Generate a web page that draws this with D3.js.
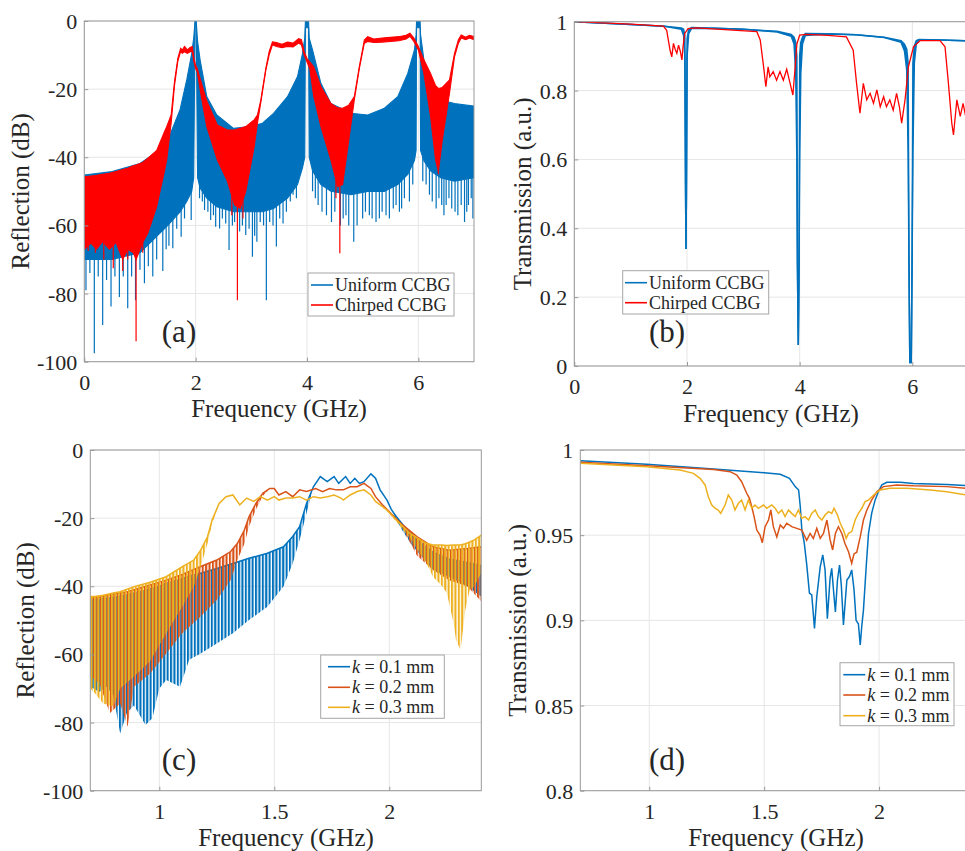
<!DOCTYPE html>
<html>
<head>
<meta charset="utf-8">
<script src="https://cdn.jsdelivr.net/npm/d3@7"></script>
<style>
  body { margin: 0; background: #fff; }
  text { font-family: "Liberation Serif", "Times New Roman", serif; fill: #262626; }
</style>
</head>
<body>
<div id="chart"></div>
<script>
// ---------- (a) reflection, 0-7 GHz : [GHz, upper dB, lower dB] ----------
const aUniform = [
  [0,-45.2,-70],[0.5,-44.2,-70],[1.0,-41.8,-68],[1.25,-39,-64],[1.5,-35,-60],[1.72,-26,-56],
  [1.84,-17.3,-53],[1.93,-9.5,-50],[1.965,-5,-46],[1.99,0,0],[2.01,0,0],[2.035,-6,-46],
  [2.08,-11.4,-49],[2.2,-22.2,-52],[2.38,-27.6,-54.5],[2.68,-31.5,-56],[2.98,-31,-56],
  [3.2,-30,-56],[3.4,-27.1,-55],[3.65,-22.2,-52],[3.83,-16.3,-48],[3.92,-9.5,-43],[3.96,-5,-40],
  [3.972,0,-2],[4.028,0,-2],[4.04,-5,-40],[4.1,-8.5,-44],[4.25,-18.3,-48],[4.43,-24.2,-50],
  [4.79,-27.1,-51],[5.09,-27.6,-50],[5.39,-25.6,-50],[5.63,-22.2,-48],[5.81,-15.4,-45],
  [5.93,-8.5,-41],[5.96,-4,-38],[5.968,0,-2],[6.032,0,-2],[6.04,-4,-38],[6.1,-11.4,-41],
  [6.22,-18.3,-44],[6.4,-23.2,-46],[6.65,-24.2,-47],[7.0,-25,-46]
];
// notches hanging below the band : [GHz, dB]
const aUniformNotches = [
  [0.03,-79],[0.1,-74],[0.18,-97.5],[0.25,-75],[0.33,-89.2],[0.4,-76],[0.48,-83.8],[0.55,-75],
  [0.63,-81],[0.7,-75],[0.78,-84.3],[0.85,-75],[0.92,-82],[1.0,-73],[1.08,-77],[1.15,-72],
  [1.23,-75],[1.3,-70],[1.41,-73.4],[1.47,-67],[1.52,-66],[1.59,-66.7],[1.66,-61],[1.74,-63.3],
  [1.8,-58],[1.92,-58.4],[2.07,-52],[2.12,-53],[2.16,-55.5],[2.22,-56],[2.27,-58.4],[2.32,-57],
  [2.36,-60.4],[2.43,-60.9],[2.48,-58],[2.54,-59.4],[2.6,-67.2],[2.66,-60],[2.7,-59],[2.79,-61.8],
  [2.84,-60],[2.9,-62.8],[2.96,-61],[3.02,-69.2],[3.06,-63],[3.1,-64.8],[3.16,-59],[3.22,-60],
  [3.27,-82],[3.33,-59],[3.39,-60],[3.45,-66.2],[3.51,-58],[3.57,-59.4],[3.63,-56],[3.7,-53],
  [3.75,-51],[3.81,-52],[4.1,-50],[4.15,-52],[4.2,-54],[4.27,-56],[4.35,-57],[4.44,-59],[4.5,-56],
  [4.6,-60],[4.65,-58],[4.7,-57],[4.75,-60],[4.84,-64.8],[4.9,-60],[5.0,-58],[5.05,-56],[5.12,-57],
  [5.17,-58],[5.24,-59],[5.3,-58],[5.35,-56],[5.42,-57],[5.48,-58],[5.55,-55],[5.6,-54],[5.66,-56],
  [5.7,-55],[5.75,-52],[5.84,-53],[5.9,-48],[6.08,-47],[6.14,-48],[6.2,-51],[6.25,-53],[6.32,-55],
  [6.37,-52],[6.42,-54],[6.46,-57],[6.5,-54],[6.55,-52],[6.6,-55],[6.66,-56],[6.71,-57],[6.77,-54],
  [6.83,-59],[6.87,-56],[6.9,-54],[6.95,-52],[6.98,-58]
];
const aChirped = [
  [0,-45.7,-67],[0.12,-45.5,-65.2],[0.22,-45.3,-67],[0.33,-45,-64.7],[0.45,-44.7,-67],[0.57,-44.2,-65],
  [0.69,-43.6,-70],[0.78,-43.2,-67],[0.88,-42.5,-68],[0.93,-42.3,-70],[1.05,-41.5,-65],[1.14,-40.3,-62.3],
  [1.3,-38,-54.5],[1.44,-32.5,-44],[1.48,-31,-40.8],[1.56,-27.6,-30],[1.62,-17.8,-19],
  [1.68,-11,-11.8],[1.73,-8,-9],[1.76,-8.5,-9.5],[1.8,-7.5,-9],[1.85,-8.5,-9.5],[1.9,-7.8,-9],
  [1.94,-7.5,-9],[1.97,-11,-12],[2.0,-13,-14],[2.03,-14,-15],[2.1,-18,-22],[2.2,-23.5,-31],
  [2.39,-30.5,-40.8],[2.57,-32,-47],[2.7,-32,-54],[2.8,-31.5,-55],[2.9,-31,-50],[3.05,-29,-37],
  [3.11,-27.6,-30],[3.17,-23.2,-24],[3.26,-14,-14.5],[3.32,-9,-10],[3.38,-6.1,-7],[3.45,-6.3,-7.5],
  [3.55,-6.8,-7.8],[3.65,-6.2,-7.5],[3.75,-6.5,-7.6],[3.85,-5.2,-6.5],[3.9,-5.5,-7],[3.95,-9,-10],
  [4.0,-11,-12],[4.05,-12,-14],[4.12,-13.4,-22],[4.25,-19.3,-31],[4.43,-24.2,-40.8],[4.55,-25.5,-48.6],
  [4.64,-25.6,-48],[4.75,-24.7,-35],[4.85,-22.2,-23.2],[4.94,-13.4,-14],[5.03,-5.6,-6.5],[5.09,-4.6,-6],
  [5.2,-5.3,-6.3],[5.35,-5,-6.2],[5.5,-4.8,-6],[5.65,-4.6,-5.8],[5.78,-4.2,-5.3],[5.85,-3.6,-4.5],
  [5.92,-5,-6],[6.0,-7.5,-8.5],[6.1,-11.4,-15.4],[6.22,-15.4,-28],[6.31,-19,-40.8],[6.36,-19.8,-44.2],
  [6.43,-19.5,-35],[6.56,-17.3,-21.2],[6.65,-9.5,-10.5],[6.72,-5.5,-6.5],[6.77,-4.1,-5],[6.85,-4.8,-5.5],
  [6.92,-4.2,-5],[7.0,-4.6,-5.5]
];
const aChirpedNotches = [
  [0.07,-67.5],[0.2,-68],[0.35,-70],[0.52,-72.6],[0.69,-73.4],[0.78,-70],[0.93,-94],[1.05,-68],
  [2.65,-57],[2.75,-82],[2.85,-58],[4.52,-52],[4.59,-68.2],[6.36,-45]
];

// ---------- (b) transmission, 0-7 GHz ----------
const bUniform = [
  [0,1,1],[1,0.992,0.992],[1.6,0.987,0.987],[1.9,0.982,0.978],[1.94,0.978,0.96],[1.962,0.96,0.9],
  [1.975,0.5,0.5],[1.982,0.34,0.34],[1.99,0.5,0.5],[2.002,0.95,0.9],[2.03,0.978,0.965],[2.08,0.983,0.98],
  [2.5,0.981,0.981],[3.0,0.978,0.978],[3.6,0.972,0.970],[3.85,0.963,0.958],[3.9,0.955,0.935],
  [3.93,0.94,0.85],[3.95,0.9,0.6],[3.96,0.3,0.3],[3.975,0.061,0.061],[3.99,0.3,0.3],[4.0,0.9,0.6],
  [4.02,0.94,0.85],[4.05,0.955,0.935],[4.1,0.966,0.96],[4.5,0.965,0.964],[5.0,0.962,0.962],
  [5.5,0.955,0.954],[5.8,0.945,0.94],[5.86,0.935,0.915],[5.9,0.92,0.86],[5.925,0.88,0.62],
  [5.94,0.3,0.3],[5.955,0.01,0.01],[5.98,0.01,0.01],[5.995,0.3,0.3],[6.01,0.88,0.62],
  [6.035,0.93,0.88],[6.07,0.945,0.935],[6.12,0.948,0.947],[6.5,0.947,0.947],[7.0,0.944,0.944]
];
const bChirped = [
  [0,1],[1.0,0.993],[1.58,0.987],[1.64,0.975],[1.7,0.917],[1.73,0.898],[1.76,0.937],[1.79,0.92],
  [1.82,0.908],[1.85,0.932],[1.88,0.915],[1.91,0.889],[1.93,0.927],[1.96,0.966],[2.02,0.98],
  [2.17,0.982],[2.6,0.978],[3.24,0.971],[3.3,0.947],[3.36,0.869],[3.4,0.811],[3.44,0.869],[3.47,0.84],
  [3.53,0.855],[3.59,0.83],[3.65,0.855],[3.71,0.83],[3.77,0.862],[3.83,0.821],[3.88,0.787],[3.92,0.869],
  [3.95,0.935],[4.0,0.961],[4.12,0.963],[4.5,0.96],[4.83,0.956],[4.95,0.917],[5.01,0.821],[5.07,0.734],
  [5.13,0.821],[5.19,0.773],[5.25,0.792],[5.31,0.763],[5.37,0.802],[5.43,0.753],[5.49,0.782],
  [5.54,0.753],[5.6,0.773],[5.66,0.743],[5.72,0.792],[5.77,0.753],[5.81,0.705],[5.87,0.773],
  [5.93,0.869],[6.02,0.927],[6.14,0.945],[6.49,0.945],[6.58,0.927],[6.64,0.821],[6.7,0.705],
  [6.73,0.671],[6.79,0.773],[6.85,0.725],[6.9,0.763],[6.96,0.714],[7.0,0.75]
];

// ---------- (c) reflection, 0.7-2.4 GHz : [GHz, upper dB, lower dB] ----------
const cK1 = [
  [0.7,-44,-69.5],[0.74,-43.8,-71],[0.77,-43.5,-69.5],[0.8,-43.2,-72],[0.83,-42.8,-83.2],[0.86,-42.5,-77],
  [0.89,-42,-75],[0.94,-41.2,-80.7],[0.97,-40.5,-78.7],[1.0,-40,-70],[1.03,-39.1,-67.5],[1.09,-38,-69.5],
  [1.13,-37,-61.6],[1.18,-36.2,-59.7],[1.25,-34.8,-56.8],[1.32,-33.3,-53.8],[1.39,-31.8,-49.9],
  [1.47,-30.3,-46],[1.54,-28.4,-40.1],[1.58,-25.4,-33.3],[1.61,-22.5,-26.4],[1.64,-15.7,-18.6],
  [1.67,-10.8,-10.8],[1.70,-7.8,-7.8],[1.73,-9.3,-9.3],[1.76,-7.8,-7.8],[1.78,-9.8,-9.8],[1.81,-7.8,-7.8],
  [1.83,-9.8,-9.8],[1.85,-8.3,-8.3],[1.87,-9.8,-9.8],[1.89,-9.3,-9.3],[1.92,-7,-7],[1.94,-8.3,-8.3],
  [1.96,-11.7,-11.7],[1.99,-14.7,-14.7],[2.01,-17.6,-17.6],[2.03,-19.5,-20.5],[2.06,-22,-24],
  [2.10,-25,-28],[2.15,-28,-32],[2.19,-30,-35.2],[2.26,-32,-37.2],[2.34,-33,-40.1],[2.4,-34,-43]
];
const cK2 = [
  [0.7,-43.5,-66.5],[0.74,-43.2,-68.5],[0.785,-42.5,-77.3],[0.83,-42,-74.4],[0.862,-41.6,-81.2],
  [0.89,-41,-69.5],[0.96,-39.6,-65.6],[1.03,-38.2,-59.7],[1.1,-36.5,-53.8],[1.18,-34.2,-48.9],
  [1.25,-32.3,-44],[1.31,-29.8,-38.2],[1.34,-27.4,-32.3],[1.37,-23.5,-27.5],[1.39,-19.6,-22.5],
  [1.42,-15.7,-17.5],[1.45,-12.7,-13.5],[1.48,-11.3,-11.3],[1.5,-11.3,-11.3],[1.52,-13.2,-13.2],
  [1.55,-12.2,-12.2],[1.58,-13.7,-13.7],[1.61,-11.7,-11.7],[1.64,-12.2,-12.2],[1.68,-11.3,-11.3],
  [1.71,-12.2,-12.2],[1.74,-11.3,-11.3],[1.77,-11.7,-11.7],[1.8,-11.7,-11.7],[1.83,-10.8,-10.8],
  [1.86,-10.8,-10.8],[1.89,-9.8,-9.8],[1.92,-11.3,-11.3],[1.94,-13.7,-13.7],[1.97,-16.1,-16.1],
  [2.0,-18.1,-18.5],[2.05,-21.5,-22],[2.12,-25.4,-31],[2.19,-28.4,-35.2],[2.26,-29.4,-38.2],
  [2.34,-28.9,-40.1],[2.4,-28.4,-44.5]
];
const cK3 = [
  [0.7,-43,-70],[0.72,-43,-71.4],[0.756,-42.6,-74.4],[0.8,-42,-75.3],[0.83,-41.6,-70],[0.89,-40.1,-66.5],
  [0.96,-38.8,-62],[1.03,-37.2,-53.8],[1.1,-34.2,-46],[1.15,-32.3,-40.1],[1.18,-29.4,-34.2],
  [1.21,-25.4,-27.4],[1.23,-20.5,-21.5],[1.26,-15.7,-16],[1.29,-13.7,-13.7],[1.32,-13.2,-13.2],
  [1.35,-16.1,-16.1],[1.38,-14.1,-14.1],[1.41,-15.1,-15.1],[1.44,-13.7,-13.7],[1.47,-14.7,-14.7],
  [1.5,-13.7,-13.7],[1.52,-14.7,-14.7],[1.55,-14.1,-14.1],[1.58,-14.1,-14.1],[1.61,-13.7,-13.7],
  [1.64,-14.7,-14.7],[1.67,-13.7,-13.7],[1.7,-14.1,-14.1],[1.73,-13.7,-13.7],[1.76,-13.2,-13.2],
  [1.79,-14.1,-14.1],[1.8,-14.7,-14.7],[1.83,-13.2,-13.2],[1.86,-12.2,-12.2],[1.89,-11.7,-11.7],
  [1.92,-13.2,-13.2],[1.94,-15.1,-15.1],[1.99,-17.6,-18],[2.03,-20.5,-21],[2.09,-24.5,-26],
  [2.16,-27.4,-33],[2.19,-27.9,-37.2],[2.23,-27.9,-40],[2.25,-28,-42],[2.28,-27.9,-50.9],
  [2.29,-27.9,-55.8],[2.31,-27.9,-58.7],[2.33,-27.5,-47],[2.35,-27,-41],[2.37,-26.4,-40],[2.4,-25,-36]
];

// ---------- (d) transmission, 0.7-2.4 GHz ----------
const dK1 = [
  [0.7,0.9937],[0.989,0.9916],[1.28,0.9888],[1.5,0.9867],[1.57,0.9858],[1.61,0.9834],[1.635,0.9785],
  [1.65,0.9765],[1.657,0.967],[1.664,0.953],[1.674,0.946],[1.685,0.933],[1.697,0.916],[1.707,0.915],
  [1.719,0.8953],[1.729,0.914],[1.744,0.9315],[1.755,0.9384],[1.765,0.9296],[1.775,0.901],[1.787,0.925],
  [1.794,0.9305],[1.804,0.914],[1.81,0.905],[1.819,0.9237],[1.828,0.9325],[1.836,0.92],[1.845,0.8973],
  [1.86,0.9237],[1.871,0.9257],[1.881,0.9296],[1.891,0.918],[1.9,0.9],[1.91,0.898],[1.918,0.8855],
  [1.925,0.897],[1.932,0.906],[1.944,0.9315],[1.954,0.951],[1.968,0.963],[1.983,0.9707],[1.997,0.9755],
  [2.012,0.9795],[2.034,0.981],[2.092,0.981],[2.15,0.9804],[2.295,0.9798],[2.4,0.979]
];
const dK2 = [
  [0.7,0.9928],[0.989,0.9908],[1.28,0.9886],[1.352,0.9873],[1.381,0.9853],[1.402,0.9814],[1.424,0.9746],
  [1.436,0.9716],[1.446,0.9667],[1.456,0.961],[1.468,0.953],[1.482,0.950],[1.492,0.9456],[1.504,0.955],
  [1.519,0.9589],[1.529,0.9648],[1.54,0.955],[1.555,0.949],[1.57,0.956],[1.584,0.954],[1.598,0.957],
  [1.62,0.955],[1.642,0.954],[1.664,0.953],[1.685,0.947],[1.7,0.951],[1.714,0.948],[1.729,0.954],
  [1.744,0.9481],[1.758,0.951],[1.773,0.9589],[1.787,0.9472],[1.798,0.9413],[1.81,0.951],[1.823,0.955],
  [1.838,0.951],[1.852,0.945],[1.867,0.9403],[1.881,0.9335],[1.891,0.939],[1.903,0.940],[1.918,0.949],
  [1.932,0.9589],[1.947,0.9648],[1.968,0.9707],[1.99,0.9755],[2.019,0.9785],[2.077,0.9795],[2.15,0.979],
  [2.295,0.9785],[2.4,0.9773]
];
const dK3 = [
  [0.7,0.9922],[0.989,0.9902],[1.134,0.9883],[1.192,0.9863],[1.221,0.9834],[1.243,0.9795],[1.257,0.9726],
  [1.272,0.9677],[1.286,0.9658],[1.3,0.9648],[1.311,0.9628],[1.33,0.9677],[1.344,0.9736],[1.359,0.9706],
  [1.373,0.9648],[1.388,0.9687],[1.402,0.9706],[1.417,0.9648],[1.431,0.9706],[1.446,0.9658],[1.46,0.9677],
  [1.475,0.9658],[1.497,0.9677],[1.511,0.9658],[1.533,0.9677],[1.548,0.9658],[1.562,0.9628],[1.577,0.9648],
  [1.591,0.9609],[1.606,0.9648],[1.62,0.9628],[1.635,0.9609],[1.649,0.9648],[1.664,0.9599],[1.678,0.9609],
  [1.693,0.9589],[1.707,0.9628],[1.722,0.9648],[1.736,0.9609],[1.751,0.9589],[1.765,0.9618],[1.78,0.9638],
  [1.794,0.9628],[1.804,0.9658],[1.819,0.9618],[1.831,0.957],[1.845,0.953],[1.857,0.9481],[1.867,0.9511],
  [1.881,0.9521],[1.896,0.9589],[1.91,0.9628],[1.925,0.9658],[1.939,0.9697],[1.954,0.9706],[1.976,0.9736],
  [2.005,0.9765],[2.048,0.9775],[2.121,0.9775],[2.223,0.9765],[2.295,0.9755],[2.4,0.9732]
];

// ---------- ticks & labels ----------
const wideTicks = [0, 2, 4, 6];
const wideTickLabels = ["0", "2", "4", "6"];
const zoomTicks = [1, 1.5, 2];
const zoomTickLabels = ["1", "1.5", "2"];
const dbTicks = [-100, -80, -60, -40, -20, 0];
const dbTickLabels = ["-100", "-80", "-60", "-40", "-20", "0"];
const trTicks = [0, 0.2, 0.4, 0.6, 0.8, 1];
const trTickLabels = ["0", "0.2", "0.4", "0.6", "0.8", "1"];
const trZoomTicks = [0.8, 0.85, 0.9, 0.95, 1];
const trZoomTickLabels = ["0.8", "0.85", "0.9", "0.95", "1"];
const ccbgNames = ["Uniform CCBG", "Chirped CCBG"];
const kNames = ["0.1", "0.2", "0.3"];

const BLUE = "#0072BD", RED = "#FF0000", ORANGE = "#D95319", YELLOW = "#EDB120";
const SERIF = '"Liberation Serif", "Times New Roman", serif';

const svg = d3.select("#chart").append("svg").attr("width", 965).attr("height", 851);
const defs = svg.append("defs");

// vertical hatching that stands in for the dense ripple in panel (c)
function stripes(id, color, offset) {
  const p = defs.append("pattern").attr("id", id).attr("patternUnits", "userSpaceOnUse")
    .attr("x", offset).attr("y", 0).attr("width", 3.4).attr("height", 10);
  p.append("rect").attr("width", 2.1).attr("height", 10).attr("fill", color);
}
stripes("st-blue", BLUE, 0);
stripes("st-orange", ORANGE, 1.1);
stripes("st-yellow", YELLOW, 2.2);

function makePanel(o) {
  const g = svg.append("g");
  const x = d3.scaleLinear().domain(o.xDom).range([o.left, o.right]);
  const y = d3.scaleLinear().domain(o.yDom).range([o.bottom, o.top]);

  g.selectAll("line.gx").data(o.xTicks).join("line").attr("class", "gx")
    .attr("x1", d => x(d)).attr("x2", d => x(d)).attr("y1", o.top).attr("y2", o.bottom)
    .attr("stroke", "#e6e6e6");
  g.selectAll("line.gy").data(o.yTicks).join("line").attr("class", "gy")
    .attr("x1", o.left).attr("x2", o.right).attr("y1", d => y(d)).attr("y2", d => y(d))
    .attr("stroke", "#e6e6e6");

  defs.append("clipPath").attr("id", "clip-" + o.id).append("rect")
    .attr("x", o.left).attr("y", o.top).attr("width", o.right - o.left).attr("height", o.bottom - o.top);
  const plot = g.append("g").attr("clip-path", `url(#clip-${o.id})`);

  const finish = () => {
    g.append("rect").attr("x", o.left).attr("y", o.top)
      .attr("width", o.right - o.left).attr("height", o.bottom - o.top)
      .attr("fill", "none").attr("stroke", "#999");

    const xa = g.append("g").attr("transform", `translate(0,${o.bottom})`)
      .call(d3.axisBottom(x).tickValues(o.xTicks).tickFormat((d, i) => o.xLabels[i]).tickSize(-4));
    xa.select(".domain").remove();
    xa.selectAll("line").attr("stroke", "#999");
    xa.selectAll("text").attr("y", 28).attr("dy", null)
      .style("font-family", SERIF).style("font-size", "22px").attr("fill", "#262626");

    const ya = g.append("g").attr("transform", `translate(${o.left},0)`)
      .call(d3.axisLeft(y).tickValues(o.yTicks).tickFormat((d, i) => o.yLabels[i]).tickSize(-4));
    ya.select(".domain").remove();
    ya.selectAll("line").attr("stroke", "#999");
    ya.selectAll("text").attr("x", -7).attr("dy", "0.34em")
      .style("font-family", SERIF).style("font-size", "22px").attr("fill", "#262626");

    g.append("text").attr("x", o.titleX).attr("y", o.bottom + 55.5).attr("text-anchor", "middle")
      .style("font-family", SERIF).style("font-size", "25px").text("Frequency (GHz)");
    g.append("text").attr("transform", `translate(${o.yTitleX},${(o.top + o.bottom) / 2}) rotate(-90)`)
      .attr("text-anchor", "middle").style("font-family", SERIF).style("font-size", "25px").text(o.yTitle);
    g.append("text").attr("x", o.tag[1]).attr("y", o.tag[2]).attr("text-anchor", "middle")
      .style("font-family", SERIF).style("font-size", "31px").text(o.tag[0]);
  };
  return { g, plot, x, y, finish };
}

function legend(g, box, rows) {
  g.append("rect").attr("x", box[0]).attr("y", box[1]).attr("width", box[2]).attr("height", box[3])
    .attr("fill", "#fff").attr("stroke", "#a6a6a6");
  rows.forEach(r => {
    g.append("line").attr("x1", box[4]).attr("x2", box[4] + 22).attr("y1", r.y).attr("y2", r.y)
      .attr("stroke", r.color).attr("stroke-width", 1.6);
    const t = g.append("text").attr("x", box[4] + 24).attr("y", r.y + 6)
      .style("font-family", SERIF).style("font-size", "18px");
    if (r.k) {
      t.append("tspan").style("font-style", "italic").text("k");
      t.append("tspan").text(" = " + r.k + " mm");
    } else t.text(r.name);
  });
}

// filled band between the upper and lower readings, with notches hanging off it
function band(P, data, notches, color, width) {
  const area = d3.area().x(d => P.x(d[0])).y0(d => P.y(d[2])).y1(d => P.y(d[1]));
  P.plot.append("path").datum(data).attr("d", area).attr("fill", color);
  const loAt = d3.scaleLinear().domain(data.map(d => d[0])).range(data.map(d => d[2]));
  P.plot.append("g").selectAll("line").data(notches).join("line")
    .attr("x1", d => P.x(d[0])).attr("x2", d => P.x(d[0]))
    .attr("y1", d => P.y(loAt(d[0])) - 3).attr("y2", d => P.y(d[1]))
    .attr("stroke", color).attr("stroke-width", 1.2);
  const hi = d3.line().x(d => P.x(d[0])).y(d => P.y(d[1]));
  const lo = d3.line().x(d => P.x(d[0])).y(d => P.y(d[2]));
  P.plot.append("path").datum(data).attr("d", hi).attr("fill", "none").attr("stroke", color).attr("stroke-width", width);
  P.plot.append("path").datum(data).attr("d", lo).attr("fill", "none").attr("stroke", color).attr("stroke-width", width);
}

// ----- panel (a) -----
const A = makePanel({
  id: "a", left: 84.3, right: 474, top: 21, bottom: 361.7, xDom: [0, 7], yDom: [-100, 0],
  xTicks: wideTicks, xLabels: wideTickLabels, yTicks: dbTicks, yLabels: dbTickLabels,
  titleX: 279, yTitleX: 29, yTitle: "Reflection (dB)", tag: ["(a)", 179, 342]
});
band(A, aUniform, aUniformNotches, BLUE, 1.1);
band(A, aChirped, aChirpedNotches, RED, 1.1);
A.finish();
legend(A.g, [308, 273, 146, 43, 311], [
  { y: 285, color: BLUE, name: ccbgNames[0] }, { y: 305, color: RED, name: ccbgNames[1] }
]);

// ----- panel (b) -----
const B = makePanel({
  id: "b", left: 574.3, right: 968.7, top: 21.7, bottom: 366, xDom: [0, 7], yDom: [0, 1],
  xTicks: wideTicks, xLabels: wideTickLabels, yTicks: trTicks, yLabels: trTickLabels,
  titleX: 771, yTitleX: 531, yTitle: "Transmission (a.u.)", tag: ["(b)", 667, 342]
});
band(B, bUniform, [], BLUE, 1.5);
B.plot.append("path").datum(bChirped)
  .attr("d", d3.line().x(d => B.x(d[0])).y(d => B.y(d[1])))
  .attr("fill", "none").attr("stroke", RED).attr("stroke-width", 1.3);
B.finish();
legend(B.g, [622.7, 270.7, 146, 43.3, 625], [
  { y: 282.7, color: BLUE, name: ccbgNames[0] }, { y: 302.7, color: RED, name: ccbgNames[1] }
]);

// ----- panel (c) -----
const C = makePanel({
  id: "c", left: 90.3, right: 481.3, top: 450, bottom: 790.7, xDom: [0.7, 2.4], yDom: [-100, 0],
  xTicks: zoomTicks, xLabels: zoomTickLabels, yTicks: dbTicks, yLabels: dbTickLabels,
  titleX: 286, yTitleX: 34, yTitle: "Reflection (dB)", tag: ["(c)", 179, 770]
});
[[cK1, BLUE, "st-blue"], [cK2, ORANGE, "st-orange"], [cK3, YELLOW, "st-yellow"]].forEach(([data, color, pat]) => {
  const area = d3.area().x(d => C.x(d[0])).y0(d => C.y(d[2])).y1(d => C.y(d[1]));
  C.plot.append("path").datum(data).attr("d", area).attr("fill", `url(#${pat})`);
  C.plot.append("path").datum(data).attr("d", d3.line().x(d => C.x(d[0])).y(d => C.y(d[1])))
    .attr("fill", "none").attr("stroke", color).attr("stroke-width", 1.5);
});
C.finish();
legend(C.g, [320.7, 655, 123.6, 63.3, 328], [
  { y: 666.7, color: BLUE, k: kNames[0] }, { y: 687.3, color: ORANGE, k: kNames[1] },
  { y: 707.3, color: YELLOW, k: kNames[2] }
]);

// ----- panel (d) -----
const D = makePanel({
  id: "d", left: 580.3, right: 971, top: 450, bottom: 790.7, xDom: [0.7, 2.4], yDom: [0.8, 1],
  xTicks: zoomTicks, xLabels: zoomTickLabels, yTicks: trZoomTicks, yLabels: trZoomTickLabels,
  titleX: 776, yTitleX: 526, yTitle: "Transmission (a.u.)", tag: ["(d)", 667, 770]
});
[[dK1, BLUE], [dK2, ORANGE], [dK3, YELLOW]].forEach(([data, color]) => {
  D.plot.append("path").datum(data).attr("d", d3.line().x(d => D.x(d[0])).y(d => D.y(d[1])))
    .attr("fill", "none").attr("stroke", color).attr("stroke-width", 1.5);
});
D.finish();
legend(D.g, [840, 662.7, 114, 63, 843.3], [
  { y: 674.7, color: BLUE, k: kNames[0] }, { y: 695, color: ORANGE, k: kNames[1] },
  { y: 715.7, color: YELLOW, k: kNames[2] }
]);
</script>
</body>
</html>
